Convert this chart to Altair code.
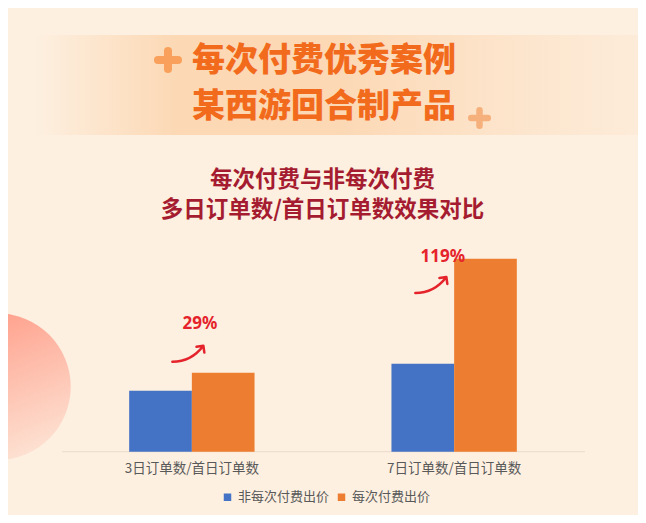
import altair as alt
import pandas as pd

# ---------------- data ----------------
categories = ["3日订单数/首日订单数", "7日订单数/首日订单数"]
series = ["非每次付费出价", "每次付费出价"]
non_each_values = [0.61, 0.88]
each_values = [0.79, 1.93]
growth_labels = ["29%", "119%"]
title_lines = ["每次付费优秀案例", "某西游回合制产品"]
subtitle_lines = ["每次付费与非每次付费", "多日订单数/首日订单数效果对比"]
bar_colors = ["#4472C4", "#ED7D31"]

W, H = 630, 507
CJK = "Noto Sans CJK SC"
BG = "#FDF0E1"
RED = "#E5232B"

rows = []
for c, a, b in zip(categories, non_each_values, each_values):
    rows.append({"category": c, "series": series[0], "value": a})
    rows.append({"category": c, "series": series[1], "value": b})
bars_df = pd.DataFrame(rows)
growth_df = pd.DataFrame({"category": categories, "value": each_values, "label": growth_labels})
cat_df = pd.DataFrame({"category": categories})
one = pd.DataFrame({"_": [0]})

xscale = alt.Scale(domain=categories, paddingInner=0.522, paddingOuter=0.462)
yscale = alt.Scale(domain=[-0.633, 4.437], nice=False, zero=False)

def X():
    return alt.X("category:N", scale=xscale, axis=None)

def Y(field="value:Q"):
    return alt.Y(field, scale=yscale, axis=None)

# ---------------- decorations ----------------
band_grad = alt.LinearGradient(
    gradient="linear", x1=0, y1=0, x2=1, y2=0,
    stops=[
        alt.GradientStop(color="rgba(252,216,180,0)", offset=0),
        alt.GradientStop(color="rgba(252,216,180,1)", offset=0.24),
        alt.GradientStop(color="rgba(252,216,180,1)", offset=0.5),
        alt.GradientStop(color="rgba(252,222,192,0.25)", offset=1),
    ],
)
band = alt.Chart(one).mark_rect(fill=band_grad).encode(
    x=alt.value(25), x2=alt.value(630), y=alt.value(27), y2=alt.value(127)
)

circle_grad = alt.LinearGradient(
    gradient="linear", x1=0.3, y1=0, x2=0.7, y2=1,
    stops=[
        alt.GradientStop(color="#FF9C88", offset=0),
        alt.GradientStop(color="#FDE3D4", offset=1),
    ],
)
circle = alt.Chart(one).mark_point(
    shape="circle", filled=True, size=21520, fill=circle_grad, opacity=1, strokeWidth=0
).encode(x=alt.value(-10.6), y=alt.value(378.7))

def plus(cx, cy, w, h, sw, color):
    hr = alt.Chart(one).mark_rule(color=color, strokeWidth=sw, strokeCap="round").encode(
        x=alt.value(cx - w / 2 + sw / 2), x2=alt.value(cx + w / 2 - sw / 2), y=alt.value(cy)
    )
    vr = alt.Chart(one).mark_rule(color=color, strokeWidth=sw, strokeCap="round").encode(
        x=alt.value(cx), y=alt.value(cy - h / 2 + sw / 2), y2=alt.value(cy + h / 2 - sw / 2)
    )
    return [hr, vr]

plus_layers = plus(160, 52, 28, 26, 8, "#F8A05C") + plus(471.5, 110, 23, 22, 6.5, "#F6B07C")

def text_block(lines, x, y_first, size, line_h, weight, color):
    return alt.Chart(one).mark_text(
        text=lines, font=CJK, fontSize=size, fontWeight=weight, color=color,
        align="center", baseline="middle", lineHeight=line_h,
    ).encode(x=alt.value(x), y=alt.value(y_first))

titles = [
    text_block(title_lines, 316, 53, 33, 46, 900, "#F26B1D"),
    text_block(subtitle_lines, 314.5, 171.5, 22.5, 30, "bold", "#A51C30"),
]

# ---------------- chart ----------------
baseline = alt.Chart(one).mark_rule(color="#E9DACB", strokeWidth=1).encode(
    x=alt.value(54), x2=alt.value(577), y=alt.Y(datum=0, scale=yscale, axis=None)
)

bars = alt.Chart(bars_df).mark_bar().encode(
    x=X(),
    xOffset=alt.XOffset("series:N", scale=alt.Scale(domain=series, paddingInner=0, paddingOuter=0)),
    y=Y(),
    y2=alt.Y2(datum=0),
    color=alt.Color(
        "series:N",
        scale=alt.Scale(domain=series, range=bar_colors),
        legend=alt.Legend(
            title=None, orient="none", legendX=213, legendY=482.5, direction="horizontal",
            symbolType="square", symbolSize=56, symbolStrokeWidth=0,
            labelFont=CJK, labelFontSize=13, labelColor="#595959", labelOffset=4,
            columnPadding=5, padding=0, labelLimit=300,
        ),
    ),
)

xlabels = alt.Chart(cat_df).mark_text(
    font=CJK, fontSize=13.5, color="#595959", baseline="middle", align="center"
).encode(x=X(), y=alt.value(461), text="category:N")

def growth_text(i, dx, dy):
    return alt.Chart(growth_df).transform_filter(
        alt.datum.category == categories[i]
    ).mark_text(
        font="Noto Sans", fontSize=17, fontWeight="bold", color=RED,
        dx=dx, dy=dy, align="center", baseline="middle",
    ).encode(x=X(), y=Y(), text="label:N")

def arrow_path(tx, ty):
    pts = [(0, 0), (12, 0), (22, -4), (31, -16), (24.1, -15), (31, -16), (32, -9.1)]
    p = [(tx + a, ty + b) for a, b in pts]
    f = lambda q: f"{q[0]:.1f} {q[1]:.1f}"
    return (f"M {f(p[0])} C {f(p[1])} {f(p[2])} {f(p[3])} "
            f"M {f(p[4])} L {f(p[5])} L {f(p[6])}")

def arrow(i, tx, ty):
    return alt.Chart(growth_df).transform_filter(
        alt.datum.category == categories[i]
    ).mark_point(
        shape=arrow_path(tx, ty), size=4, filled=False, color=RED,
        strokeWidth=2.5, strokeCap="round", strokeJoin="round", opacity=1,
    ).encode(x=X(), y=Y())

layers = [band, circle] + plus_layers + titles + [
    baseline, bars, xlabels,
    growth_text(0, 8, -48.5), growth_text(1, -11.3, -2.2),
    arrow(0, -19.5, -11), arrow(1, -38.8, 34.3),
]

chart = alt.layer(*layers).properties(
    width=W, height=H, padding=0,
    autosize=alt.AutoSizeParams(type="none"),
    background=BG,
).configure_view(stroke=None)

chart.save("out.html", embed_options={"renderer": "svg", "actions": False})
